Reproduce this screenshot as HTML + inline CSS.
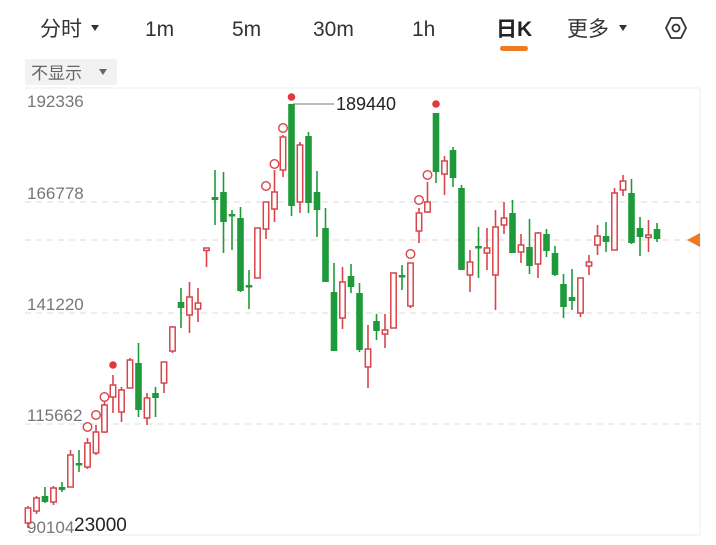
<!DOCTYPE html>
<html><head><meta charset="utf-8"><style>
body{margin:0;width:716px;height:545px;background:#fff;overflow:hidden;font-family:"Liberation Sans","Noto Sans CJK SC",sans-serif;}
svg{position:absolute;left:0;top:0}
</style></head><body>
<svg id="s" width="716" height="545" viewBox="0 0 716 545">
<g font-family="Liberation Sans, Noto Sans CJK SC, sans-serif" fill="#333" font-size="21">
<text x="40" y="36">分时</text><path d="M91 25 L99 25 L95 31Z" fill="#333"/>
<text x="145" y="36">1m</text>
<text x="232" y="36">5m</text>
<text x="313" y="36">30m</text>
<text x="412" y="36">1h</text>
<text x="496" y="36" font-weight="bold" fill="#222">日K</text>
<rect x="500" y="46" width="28" height="5" rx="2.5" fill="#ee7a22"/>
<text x="567" y="36">更多</text><path d="M619 25 L627 25 L623 31Z" fill="#333"/>
</g>
<g transform="translate(676,28)" fill="none" stroke="#333" stroke-width="1.8">
<path d="M-5,-10 L5,-10 L10,0 L5,10 L-5,10 L-10,0Z" stroke-linejoin="round"/>
<circle r="3.5"/>
</g>
<rect x="25" y="59" width="92" height="26" rx="2" fill="#f2f2f2"/>
<text x="31" y="79" font-size="17" fill="#666" font-family="Liberation Sans, Noto Sans CJK SC, sans-serif">不显示</text>
<path d="M99 69 L107 69 L103 75Z" fill="#666"/>
<line x1="25" y1="88" x2="700" y2="88" stroke="#eee"/>
<line x1="700" y1="88" x2="700" y2="535" stroke="#eee"/>
<line x1="25" y1="535" x2="700" y2="535" stroke="#eee"/>
<g stroke="#ddd" stroke-dasharray="6,5">
<line x1="25" y1="202" x2="700" y2="202"/>
<line x1="25" y1="313" x2="700" y2="313"/>
<line x1="25" y1="424" x2="700" y2="424"/>
<line x1="25" y1="240" x2="690" y2="240" stroke="#e8d8c8"/>
</g>
<path d="M687 240 L700 233 L700 247Z" fill="#ee7a22"/>
<g font-size="17" fill="#777" font-family="Liberation Sans, sans-serif">
<text x="27" y="107">192336</text>
<text x="27" y="199">166778</text>
<text x="27" y="310">141220</text>
<text x="27" y="421">115662</text>
<text x="27" y="533">90104</text>
</g>
<text x="74" y="531" font-size="19" fill="#222" font-family="Liberation Sans, sans-serif">23000</text>
<line x1="293" y1="104" x2="334" y2="104" stroke="#777"/>
<text x="336" y="110" font-size="18" fill="#222" font-family="Liberation Sans, sans-serif">189440</text>
<g id="c"></g>
</svg>
<script>
var d=[
['u',508,523,506,528],['u',498,511,496,514],['d',496,502,487,503],['u',488,502,486,505],['d',487,490,482,492],
['u',455,487,450,487],['d',463,465,450,472],['u',443,467,438,469,427],['u',432,453,425,455,415],['u',405,432,400,433,397],
['u',385,397,375,413,'R365'],['u',390,412,387,422],['u',360,388,358,388],['d',363,410,343,417],['u',398,418,393,425],
['d',393,398,387,417],['u',362,383,362,393],['u',327,351,326,353],['d',302,308,288,328],['u',297,315,282,333],
['u',303,309,288,322],['u',248,249,248,267],['d',197,200,170,225],['d',192,222,172,253],['d',214,216,210,250],
['d',218,291,207,292],['d',285,287,270,309],['u',228,278,228,278],['u',202,229,202,239,186],['u',192,209,170,222,164],
['u',137,170,135,177,128],['d',104,206,104,216,'R97'],['u',145,202,142,213],['d',136,203,132,213],['d',192,210,171,237],
['d',228,282,208,282],['d',292,351,263,351],['u',282,318,267,329],['d',276,287,264,293],['d',293,350,283,352],
['u',349,367,325,388],['d',321,331,314,340],['u',330,334,314,348],['u',273,328,273,328],['d',275,277,265,290],
['u',263,306,263,308,254],['u',213,231,208,243,200],['u',202,212,182,213,175],['d',113,172,113,183,'R104'],['u',161,174,156,195],
['d',150,178,147,187],['d',188,270,185,270],['u',262,275,250,292],['d',246,248,227,278],['u',248,253,228,270],
['u',227,275,210,310],['u',218,225,202,234],['d',213,253,200,253],['u',245,252,234,263],['d',247,266,219,274],
['u',233,264,232,278],['d',234,251,229,257],['d',253,275,246,276],['d',284,307,274,318],['d',297,301,269,310],
['u',278,313,278,317],['u',262,266,255,275],['u',236,245,225,255],['d',236,242,222,252],['u',193,250,188,250],
['u',181,190,175,196],['d',193,243,179,244],['d',228,237,217,256],['u',235,237,220,252],['d',229,239,223,242]];
var R='#d8444a',G='#1f9a3a',h='';
d.forEach(function(c,i){
 var x=28+i*8.5,col=c[0]=='u'?R:G,top=c[1],bot=Math.max(c[2],c[1]+2.5);
 h+='<line x1="'+x+'" y1="'+c[3]+'" x2="'+x+'" y2="'+c[4]+'" stroke="'+col+'" stroke-width="1.6"/>';
 if(c[0]=='u')h+='<rect x="'+(x-2.7)+'" y="'+top+'" width="5.4" height="'+(bot-top)+'" fill="#fff" stroke="'+R+'" stroke-width="1.5"/>';
 else h+='<rect x="'+(x-3.3)+'" y="'+top+'" width="6.6" height="'+(bot-top)+'" fill="'+G+'"/>';
 if(c[5]!==undefined){
  if(typeof c[5]=='string')h+='<circle cx="'+x+'" cy="'+c[5].slice(1)+'" r="3.8" fill="#e0383e"/>';
  else h+='<circle cx="'+x+'" cy="'+c[5]+'" r="4.3" fill="#fff" stroke="'+R+'" stroke-width="1.4"/>';
 }
});
document.getElementById('c').innerHTML=h;
</script>
</body></html>
